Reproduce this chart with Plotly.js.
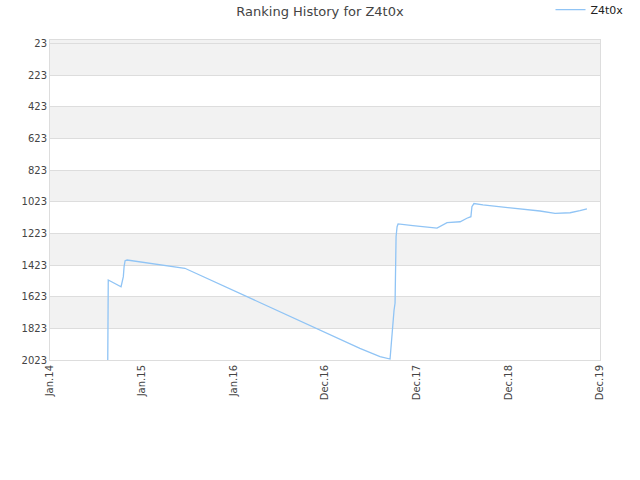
<!DOCTYPE html>
<html>
<head>
<meta charset="utf-8">
<script src="https://cdn.plot.ly/plotly-3.0.1.min.js"></script>
<style>html,body{margin:0;padding:0;background:#fff;}#chart{width:640px;height:480px;}</style>
</head>
<body>
<div id="chart"></div>
<script>
const seriesName = 'Z4t0x';
const dates = [
  '2014-08-19','2014-08-19','2014-08-21','2014-10-11','2014-10-20','2014-10-23','2014-10-27','2014-11-04',
  '2015-02-03','2015-04-04','2015-06-22','2017-05-19','2017-08-07','2017-09-16','2017-09-20','2017-09-24',
  '2017-09-28','2017-10-02','2017-10-06','2017-10-10','2017-10-14','2017-10-18','2017-12-16','2018-01-25',
  '2018-03-22','2018-05-01','2018-06-22','2018-07-19','2018-08-04','2018-08-08','2018-08-16','2018-09-21',
  '2018-12-26','2019-02-27','2019-05-06','2019-07-05','2019-09-03','2019-10-12','2019-11-09'
];
const ranks = [
  2023,1593,1517,1560,1496,1433,1395,1391,
  1412,1424,1443,1949,2002,2017,1939,1854,
  1728,1707,1663,1244,1180,1163,1174,1180,
  1189,1155,1149,1127,1117,1054,1034,1043,
  1058,1070,1081,1096,1092,1079,1067
];
const xTickVals = ['2014-01-01','2015-01-01','2016-01-01','2016-12-31','2017-12-31','2018-12-31','2019-12-31'];
const xTickText = ['Jan.14','Jan.15','Jan.16','Dec.16','Dec.17','Dec.18','Dec.19'];
const yTickVals = [23,223,423,623,823,1023,1223,1423,1623,1823,2023];
const bandEdges = [[0,223],[423,623],[823,1023],[1223,1423],[1623,1823]];

const shapes = bandEdges.map(b => ({
  type:'rect', xref:'paper', yref:'y', x0:0, x1:1, y0:b[0], y1:b[1],
  fillcolor:'#f2f2f2', line:{width:0}, layer:'below'
}));

const trace = {
  x: dates, y: ranks, type:'scatter', mode:'lines', name: seriesName,
  line:{color:'rgb(144,196,245)', width:1.3}
};

const layout = {
  width:640, height:480,
  margin:{l:50, r:40, t:40, b:120, autoexpand:false},
  paper_bgcolor:'#fff', plot_bgcolor:'#fff',
  font:{family:'DejaVu Sans, sans-serif', size:11, color:'#444'},
  title:{text:'Ranking History for Z4t0x', x:0.5, xanchor:'center', y:0.985, yanchor:'top', font:{size:13, color:'#444'}},
  showlegend:true,
  legend:{x:0.91, y:1.14, xanchor:'left', yanchor:'top', orientation:'h', font:{size:11, color:'#222'}, bgcolor:'rgba(0,0,0,0)'},
  xaxis:{
    type:'date', range:['2014-01-01','2019-12-31'],
    tickmode:'array', tickvals:xTickVals, ticktext:xTickText, tickangle:-90,
    showgrid:false, zeroline:false, showline:true, linecolor:'#ddd', mirror:true,
    ticks:'', tickfont:{size:10, color:'#444'}
  },
  yaxis:{
    range:[2023,0], tickmode:'array', tickvals:yTickVals,
    showgrid:true, gridcolor:'#ddd', zeroline:false, showline:true, linecolor:'#ddd', mirror:true,
    ticks:'', tickfont:{size:10, color:'#444'}
  },
  shapes: shapes
};

Plotly.newPlot('chart', [trace], layout, {displayModeBar:false, staticPlot:true});
</script>
</body>
</html>
